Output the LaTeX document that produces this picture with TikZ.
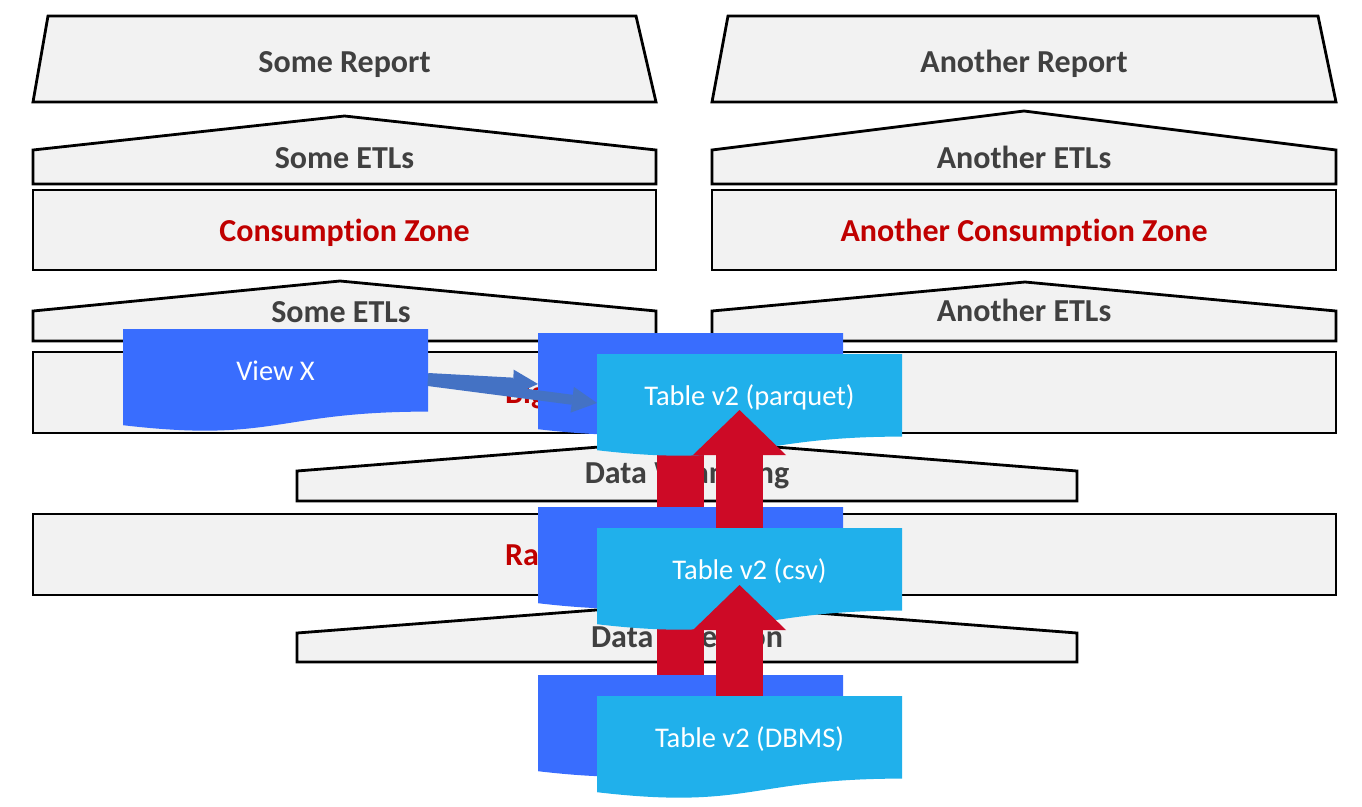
\documentclass[tikz,border=0pt]{standalone}
\usepackage{fontspec}
\setmainfont{Carlito}[Ligatures=NoCommon]
\usetikzlibrary{arrows.meta}
\definecolor{layerfill}{HTML}{F2F2F2}
\definecolor{labelgray}{HTML}{404040}
\definecolor{zonered}{HTML}{C00000}
\definecolor{docdark}{HTML}{396DFE}
\definecolor{doclight}{HTML}{20B0EB}
\definecolor{arrowred}{HTML}{CD0A26}
\definecolor{arrowblue}{HTML}{4472C4}
\tikzset{
  layer/.style={fill=layerfill, draw=black, line width=2.8pt, line join=miter},
  layerlabel/.style={text=labelgray, font=\fontsize{32}{37}\selectfont\bfseries, anchor=base, inner sep=0pt},
  zonelabel/.style={layerlabel, text=zonered},
  doctext/.style={text=white, font=\fontsize{28.5}{34}\selectfont, anchor=base, inner sep=0pt},
  redarrow/.style={draw=arrowred, line width=47pt, -{Triangle[width=93pt,length=45pt,line width=0pt]}},
  bluearrow/.style={draw=arrowblue, line width=10pt, -{Triangle[width=26pt,length=25pt,line width=0pt]}},
}
\newcommand{\docbox}[3]{\begin{scope}[shift={(#1,#2)}]\fill[#3] (0,0) -- (305,0) -- (305,82.6) .. controls (152.5,82.6) and (152.5,114) .. (0,96.2) -- cycle;\end{scope}}
\begin{document}
\begin{tikzpicture}[x=1pt,y=-1pt]
\useasboundingbox (0,0) rectangle (1362,806);
% reports
\draw[layer] (48,16) -- (636,16) -- (656,102) -- (33,102) -- cycle;
\node[layerlabel] (rep1) at (344.5,72) {Some Report};
\draw[layer] (728,16) -- (1318,16) -- (1336,102) -- (712,102) -- cycle;
\node[layerlabel] (rep2) at (1024,72) {Another Report};
% upper ETLs
\draw[layer] (33,184) -- (33,150) -- (344.5,116) -- (656,150) -- (656,184) -- cycle;
\node[layerlabel] (etl1) at (344.5,168) {Some ETLs};
\draw[layer] (712,184) -- (712,150) -- (1024,111) -- (1336,150) -- (1336,184) -- cycle;
\node[layerlabel] (etl2) at (1024,168) {Another ETLs};
% consumption zones
\draw[layer] (33,190) rectangle (656,270);
\node[zonelabel] (cz1) at (344.5,241) {Consumption Zone};
\draw[layer] (712,190) rectangle (1336,270);
\node[zonelabel] (cz2) at (1024,241) {Another Consumption Zone};
% lower ETLs
\draw[layer] (33,341) -- (33,311) -- (340,281) -- (656,311) -- (656,341) -- cycle;
\node[layerlabel] (etl3) at (341,322) {Some ETLs};
\draw[layer] (712,341) -- (712,311) -- (1025,282) -- (1336,311) -- (1336,341) -- cycle;
\node[layerlabel] (etl4) at (1024,321) {Another ETLs};
% big data zone
\draw[layer] (33,352) rectangle (1336,433);
\node[zonelabel, anchor=base west] (bdz) at (505,403) {Big Data};
% data wrangling
\draw[layer] (297,501) -- (297,471) -- (687,440) -- (1077,471) -- (1077,501) -- cycle;
\node[layerlabel] (wr) at (687,483) {Data Wrangling};
% raw data zone
\draw[layer] (33,514) rectangle (1336,595);
\node[zonelabel, anchor=base west] (rdz) at (505,565) {Raw Data};
% data ingestion
\draw[layer] (297,662) -- (297,633) -- (687,603) -- (1077,633) -- (1077,662) -- cycle;
\node[layerlabel] (ing) at (687,647) {Data Ingestion};

% connector end points
\coordinate (dcsv-out) at (680.5,549);
\coordinate (dbig-in) at (680.5,389);
\coordinate (ddbms-out) at (680.5,720);
\coordinate (dcsv-in) at (680.5,564);
\coordinate (lcsv-out) at (739.5,570);
\coordinate (lparq-in) at (739.5,410);
\coordinate (ldbms-out) at (739.5,745);
\coordinate (lcsv-in) at (739.5,585);
\coordinate (viewx-out1) at (428,378);
\coordinate (viewx-out2) at (428,381);
\coordinate (dbig-left) at (538,384);
\coordinate (lparq-left) at (597,403);

% dark group
\docbox{123}{329}{docdark}
\docbox{538}{333}{docdark}
\draw[redarrow] (dcsv-out) -- (dbig-in);
\docbox{538}{507}{docdark}
\draw[redarrow] (ddbms-out) -- (dcsv-in);
\docbox{538}{675}{docdark}
\node[doctext] (viewx) at (275.5,380) {View X};
% blue arrows
\draw[bluearrow] (viewx-out1) -- (dbig-left);
\draw[bluearrow] (viewx-out2) -- (lparq-left);
% light group
\docbox{597}{354}{doclight}
\draw[redarrow] (lcsv-out) -- (lparq-in);
\docbox{597}{528}{doclight}
\draw[redarrow] (ldbms-out) -- (lcsv-in);
\docbox{597}{696}{doclight}
\node[doctext] (parq) at (749.5,405) {Table v2 (parquet)};
\node[doctext] (csv) at (749.5,579) {Table v2 (csv)};
\node[doctext] (dbms) at (749.5,747) {Table v2 (DBMS)};
\end{tikzpicture}
\end{document}
